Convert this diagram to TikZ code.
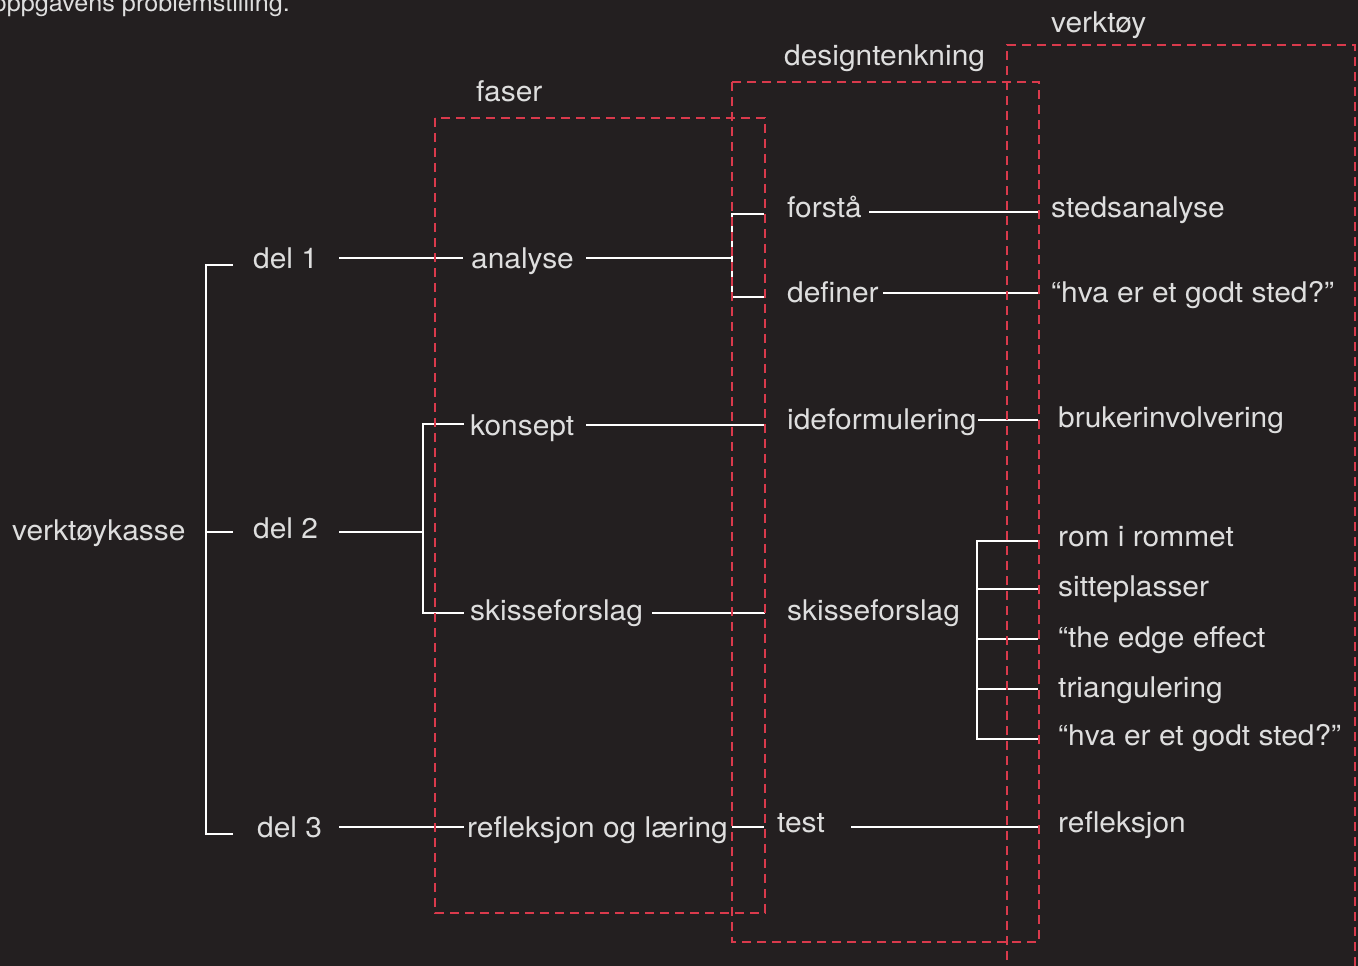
\documentclass[tikz,border=0pt]{standalone}
\usepackage{fontspec}
\setmainfont{TeX Gyre Heros}[FakeStretch=1.05]
\definecolor{bg}{HTML}{231F20}
\definecolor{dred}{HTML}{D93A4C}
\definecolor{txt}{HTML}{DEDEDE}
\begin{document}
\begin{tikzpicture}[x=1pt,y=-1pt,
  lbl/.style={anchor=base west, inner sep=0pt, text=txt, font=\fontsize{28.5}{32}\selectfont},
  link/.style={draw=white, line width=2.8pt, line join=miter},
  frame/.style={draw=dred, line width=1.4pt, dash pattern=on 9pt off 6pt}]
\fill[bg] (0,0) rectangle (1358,966);
\useasboundingbox (0,0) rectangle (1358,966);

% ---- text nodes ----
\node[lbl, anchor=base east, font=\fontsize{24}{28}\selectfont] (top) at (290,12) {oppgavens problemstilling.};
\node[lbl] (hverk) at (1051,33) {verktøy};
\node[lbl] (hdes) at (784,66) {designtenkning};
\node[lbl] (hfas) at (476,102) {faser};

\node[lbl] (vk) at (12,540) {verktøykasse};
\node[lbl] (d1) at (253,268) {del 1};
\node[lbl] (d2) at (253,538) {del 2};
\node[lbl] (d3) at (257,837) {del 3};

\node[lbl] (an) at (471,268) {analyse};
\node[lbl] (ko) at (470,435) {konsept};
\node[lbl] (sk) at (470,620) {skisseforslag};
\node[lbl] (rl) at (467,837) {refleksjon og læring};

\node[lbl] (fo) at (787,217) {forstå};
\node[lbl] (de) at (787,302) {definer};
\node[lbl] (id) at (787,429) {ideformulering};
\node[lbl] (sk2) at (787,620) {skisseforslag};
\node[lbl] (te) at (777,832) {test};

\node[lbl] (st) at (1051,217) {stedsanalyse};
\node[lbl] (hv1) at (1051,302) {“hva er et godt sted?”};
\node[lbl] (br) at (1058,427) {brukerinvolvering};
\node[lbl] (ro) at (1058,546) {rom i rommet};
\node[lbl] (si) at (1058,596) {sitteplasser};
\node[lbl] (ed) at (1058,647) {“the edge effect};
\node[lbl] (tr) at (1058,697) {triangulering};
\node[lbl] (hv2) at (1058,745) {“hva er et godt sted?”};
\node[lbl] (re) at (1058,832) {refleksjon};

% ---- connector end points ----
\coordinate (b1) at (233,265);
\coordinate (b2) at (233,532);
\coordinate (b3) at (233,834);
\coordinate (bx2) at (206,532);

\coordinate (d1r) at (339,258);
\coordinate (anl) at (463,258);
\coordinate (d2r) at (339,532);
\coordinate (kj) at (423,532);
\coordinate (kol) at (464,424);
\coordinate (skl) at (464,613);
\coordinate (d3r) at (339,827);
\coordinate (rll) at (464,827);

\coordinate (anr) at (586,258);
\coordinate (aj) at (732,258);
\coordinate (fol) at (764,214);
\coordinate (del) at (764,297);
\coordinate (kor) at (586,425);
\coordinate (idl) at (765,425);
\coordinate (skr) at (652,613);
\coordinate (sk2l) at (765,613);
\coordinate (rlr) at (732,827);
\coordinate (tel) at (764,827);

\coordinate (for) at (869,212);
\coordinate (stl) at (1038,212);
\coordinate (der) at (883,293);
\coordinate (hv1l) at (1038,293);
\coordinate (idr) at (978,420);
\coordinate (brl) at (1038,420);
\coordinate (rol) at (1038,541);
\coordinate (sil) at (1038,589);
\coordinate (edl) at (1038,639);
\coordinate (trl) at (1038,689);
\coordinate (hv2l) at (1038,739);
\coordinate (sj1) at (977,589);
\coordinate (sj2) at (977,639);
\coordinate (sj3) at (977,689);
\coordinate (ter) at (851,827);
\coordinate (rel) at (1038,827);

% ---- connectors ----
\draw[link] (b1) -- ++(-27,0) |- (b3);
\draw[link] (bx2) -- (b2);
\draw[link] (d1r) -- (anl);
\draw[link] (d2r) -- (kj);
\draw[link] (kol) -- ++(-41,0) |- (skl);
\draw[link] (d3r) -- (rll);

\draw[link] (anr) -- (aj);
\draw[link] (fol) -- ++(-32,0) |- (del);
\draw[link] (kor) -- (idl);
\draw[link] (skr) -- (sk2l);
\draw[link] (rlr) -- (tel);

\draw[link] (for) -- (stl);
\draw[link] (der) -- (hv1l);
\draw[link] (idr) -- (brl);
\draw[link] (rol) -- ++(-61,0) |- (hv2l);
\draw[link] (sj1) -- (sil);
\draw[link] (sj2) -- (edl);
\draw[link] (sj3) -- (trl);
\draw[link] (ter) -- (rel);

% ---- dashed frames ----
\draw[frame] (435,118) rectangle (765,913);
\draw[frame] (732,82) rectangle (1039,942);
\draw[frame] (1007,990) -- (1007,45) -- (1355,45) -- (1355,990);
\end{tikzpicture}
\end{document}
